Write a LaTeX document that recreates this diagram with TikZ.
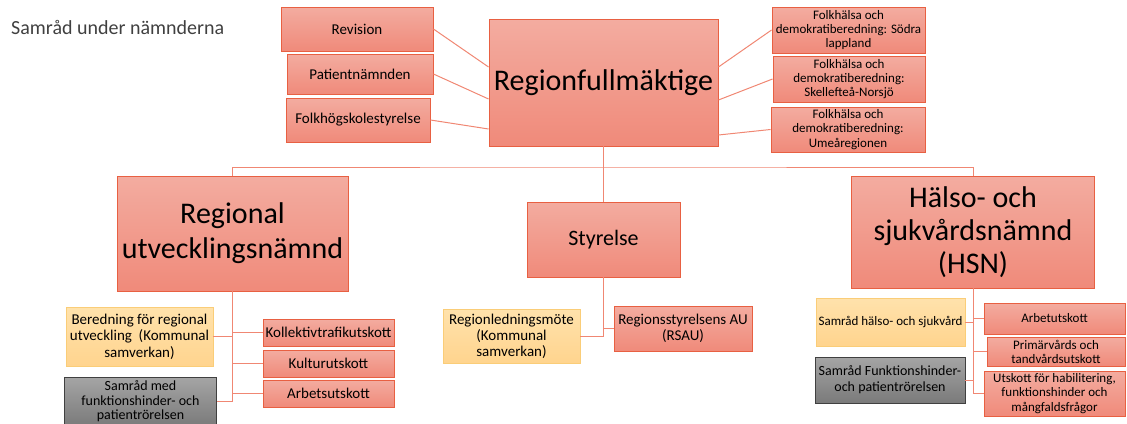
\documentclass[tikz,border=0pt]{standalone}
\usepackage{fontspec}
\setmainfont{Carlito}
\definecolor{linkline}{RGB}{240,135,115}
\definecolor{redline}{RGB}{232,96,66}
\definecolor{redtop}{RGB}{243,172,160}
\definecolor{redbot}{RGB}{240,138,122}
\definecolor{orline}{RGB}{250,205,120}
\definecolor{ortop}{RGB}{255,226,172}
\definecolor{orbot}{RGB}{255,212,142}
\definecolor{grtop}{RGB}{165,165,165}
\definecolor{grbot}{RGB}{122,122,122}
\begin{document}
\begin{tikzpicture}[x=1pt,y=-1pt,
  redbox/.style={draw=redline,line width=0.9pt,top color=redtop,bottom color=redbot,
    inner sep=1pt,align=center,font=\fontsize{15}{16.5}\selectfont},
  orbox/.style={redbox,draw=orline,top color=ortop,bottom color=orbot},
  grbox/.style={redbox,draw=black!75,top color=grtop,bottom color=grbot},
  link/.style={draw=linkline,line width=1pt}]
  \useasboundingbox (0,0) rectangle (1127,423);
  \node[anchor=base west,inner sep=0pt,text=black!75,font=\fontsize{20}{24}\selectfont] (title) at (11,34) {Samråd under nämnderna};

  % top level
  \node[redbox,minimum width=229,minimum height=127,font=\fontsize{30}{36}\selectfont] (rf) at (603.5,82.5) {Regionfullmäktige};
  \node[redbox,minimum width=152,minimum height=44] (rev) at (357,29) {Revision};
  \node[redbox,minimum width=146,minimum height=40] (pat) at (360,74) {Patientnämnden};
  \node[redbox,minimum width=144,minimum height=44] (folk) at (358,120) {Folkhögskolestyrelse};
  \node[redbox,minimum width=153,minimum height=46,font=\fontsize{13}{14.3}\selectfont] (fh1) at (848.5,30) {Folkhälsa och\\demokratiberedning: Södra\\lappland};
  \node[redbox,minimum width=152,minimum height=46,font=\fontsize{13}{14.3}\selectfont] (fh2) at (849,79) {Folkhälsa och\\demokratiberedning:\\Skellefteå-Norsjö};
  \node[redbox,minimum width=154,minimum height=45,font=\fontsize{13}{14.3}\selectfont] (fh3) at (848,129.5) {Folkhälsa och\\demokratiberedning:\\Umeåregionen};

  % committees
  \node[redbox,minimum width=231,minimum height=115,font=\fontsize{30}{35}\selectfont] (run) at (232.5,233.5) {Regional\\utvecklingsnämnd};
  \node[redbox,minimum width=153,minimum height=75,font=\fontsize{22}{26}\selectfont] (sty) at (603.5,239.5) {Styrelse};
  \node[redbox,minimum width=243,minimum height=112,font=\fontsize{30}{33}\selectfont] (hsn) at (973,232) {Hälso- och\\sjukvårdsnämnd\\(HSN)};

  % under Regional utvecklingsnämnd
  \node[orbox,minimum width=147,minimum height=59] (ber) at (139.5,336.5) {Beredning för regional\\utveckling~~(Kommunal\\samverkan)};
  \node[grbox,minimum width=152,minimum height=49,font=\fontsize{14}{14.6}\selectfont] (smf) at (140.5,401.5) {Samråd med\\funktionshinder- och\\patientrörelsen};
  \node[redbox,minimum width=131,minimum height=27] (kol) at (328.5,332.5) {Kollektivtrafikutskott};
  \node[redbox,minimum width=131,minimum height=27] (kul) at (328.5,363.5) {Kulturutskott};
  \node[redbox,minimum width=131,minimum height=27] (arb) at (328.5,393.5) {Arbetsutskott};

  % under Styrelse
  \node[orbox,minimum width=137,minimum height=54,font=\fontsize{15}{16}\selectfont] (rlm) at (511.5,336) {Regionledningsmöte\\(Kommunal\\samverkan)};
  \node[redbox,minimum width=138,minimum height=45] (rsau) at (683,328.5) {Regionsstyrelsens AU\\(RSAU)};

  % under HSN
  \node[orbox,minimum width=149,minimum height=48,font=\fontsize{13}{15}\selectfont] (shs) at (890.5,322) {Samråd hälso- och sjukvård};
  \node[grbox,minimum width=150,minimum height=46,font=\fontsize{14}{16}\selectfont] (sfp) at (890,380) {Samråd Funktionshinder-\\och patientrörelsen};
  \node[redbox,minimum width=141,minimum height=31,font=\fontsize{13}{15}\selectfont] (hsau) at (1054.5,318.5) {Arbetutskott};
  \node[redbox,minimum width=138,minimum height=29,font=\fontsize{13}{14}\selectfont] (ptu) at (1056,351.5) {Primärvårds och\\tandvårdsutskott};
  \node[redbox,minimum width=141,minimum height=45,font=\fontsize{13}{14.5}\selectfont] (uhf) at (1054.5,393.5) {Utskott för habilitering,\\funktionshinder och\\mångfaldsfrågor};

  \coordinate (bus) at (603.5,167);

  % connectors
  \draw[link] (rev.east) -- (rf.west |- 0,67);
  \draw[link] (pat.east) -- (rf.west |- 0,99);
  \draw[link] (folk.east) -- (rf.west |- 0,129);
  \draw[link] (fh1.west) -- (rf.east |- 0,67);
  \draw[link] (fh2.west) -- (rf.east |- 0,100);
  \draw[link] (fh3.west) -- (rf.east |- 0,135);
  \draw[link] (rf.south) -- (sty.north);
  \draw[link] (run.north) |- (bus) -| (hsn.north);

  \draw[link] (run.south) |- (smf.east);
  \draw[link] (ber.east) -- (ber.east -| run.south);
  \foreach \n in {kol,kul,arb}
    \draw[link] (\n.west) -- (\n.west -| run.south);

  \draw[link] (sty.south) |- (rlm.east);
  \draw[link] (rsau.west) -- (rsau.west -| sty.south);

  \draw[link] (hsn.south) |- (uhf.west);
  \foreach \n in {shs,sfp}
    \draw[link] (\n.east) -- (\n.east -| hsn.south);
  \foreach \n in {hsau,ptu}
    \draw[link] (\n.west) -- (\n.west -| hsn.south);
\end{tikzpicture}
\end{document}
